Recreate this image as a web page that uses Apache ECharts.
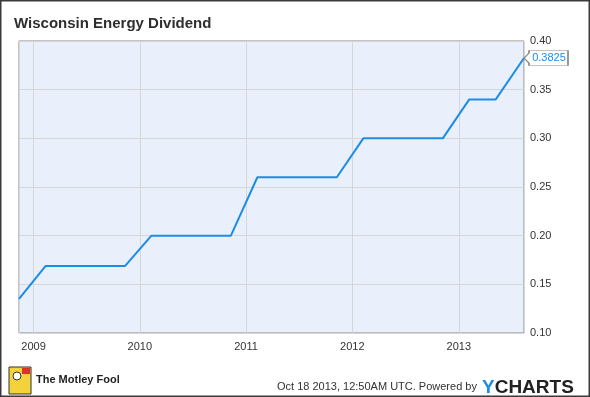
<!DOCTYPE html>
<html>
<head>
<meta charset="utf-8">
<script src="https://cdn.jsdelivr.net/npm/echarts@6/dist/echarts.min.js"></script>
<style>
  body { margin: 0; background: #fff; }
  #chart { width: 590px; height: 397px; }
</style>
</head>
<body>
<div id="chart"></div>
<script>
'use strict';

// quarterly dividend dates and split-adjusted amounts
var divDates = [
    '2008-11-12', '2009-02-11', '2009-05-13', '2009-08-12', '2009-11-11',
    '2010-02-10', '2010-05-12', '2010-08-11', '2010-11-10',
    '2011-02-09', '2011-05-11', '2011-08-10', '2011-11-09',
    '2012-02-08', '2012-05-09', '2012-08-08', '2012-11-07',
    '2013-02-06', '2013-05-08', '2013-08-13'
];
var divValues = [
    0.135, 0.16875, 0.16875, 0.16875, 0.16875,
    0.20, 0.20, 0.20, 0.20,
    0.26, 0.26, 0.26, 0.26,
    0.30, 0.30, 0.30, 0.30,
    0.34, 0.34, 0.3825
];
var yTicks = [0.10, 0.15, 0.20, 0.25, 0.30, 0.35, 0.40];

var FONT = '"Liberation Sans", Arial, sans-serif';
var LINE_COLOR = '#1b8ce8';

var series_data = [];
for (var i = 0; i < divDates.length; i++) {
    series_data.push([divDates[i], divValues[i]]);
}
var last = series_data[series_data.length - 1];

var my_chart = echarts.init(document.getElementById('chart'));
my_chart.setOption({
    animation: false,
    title: {
        text: 'Wisconsin Energy Dividend',
        left: 9,
        top: 11,
        textStyle: { fontFamily: FONT, fontSize: 15, fontWeight: 'bold', color: '#2e2e2e' }
    },
    grid: {
        left: 19,
        right: 66,
        top: 41,
        bottom: 64,
        show: true,
        backgroundColor: '#eaf0fb',
        borderColor: '#888',
        borderWidth: 1
    },
    xAxis: {
        type: 'time',
        min: divDates[0],
        max: divDates[divDates.length - 1],
        minInterval: 365 * 24 * 3600 * 1000,
        axisLine: { show: false },
        axisTick: { show: false },
        axisLabel: {
            formatter: '{yyyy}',
            color: '#333',
            fontFamily: FONT,
            fontSize: 11,
            margin: 8,
            showMinLabel: false,
            showMaxLabel: false
        },
        splitLine: { show: true, lineStyle: { color: '#d6d6d6', width: 1 } }
    },
    yAxis: {
        type: 'value',
        position: 'right',
        min: yTicks[0],
        max: yTicks[yTicks.length - 1],
        interval: 0.05,
        axisLine: { show: false },
        axisTick: { show: false },
        axisLabel: {
            formatter: function (v) { return v.toFixed(2); },
            color: '#333',
            fontFamily: FONT,
            fontSize: 11,
            margin: 6
        },
        splitLine: { show: true, lineStyle: { color: '#d6d6d6', width: 1 } }
    },
    series: [{
        type: 'line',
        data: series_data,
        symbol: 'none',
        lineStyle: { color: LINE_COLOR, width: 2 },
        markPoint: {
            symbol: 'path://M0,7.5 L5,2.5 L5,0 L44,0 L44,15 L5,15 L5,12.5 Z',
            symbolSize: [44, 15],
            symbolOffset: ['50%', 0],
            itemStyle: { color: '#fff', borderColor: '#888', borderWidth: 1 },
            label: {
                show: true,
                position: 'inside',
                offset: [3, 0],
                color: LINE_COLOR,
                fontFamily: FONT,
                fontSize: 11,
                formatter: function (p) { return p.value.toFixed(4); }
            },
            data: [{ coord: last, value: last[1] }]
        }
    }],
    graphic: [
        {
            type: 'rect',
            shape: { x: 0.75, y: 0.75, width: 588.5, height: 395.5 },
            style: { fill: null, stroke: '#3a3a3a', lineWidth: 1.5 },
            silent: true
        },
        {
            type: 'rect',
            shape: { x: 9, y: 367, width: 22, height: 27 },
            style: { fill: '#f3d23a', stroke: '#333', lineWidth: 1 }
        },
        {
            type: 'circle',
            shape: { cx: 17, cy: 376, r: 4 },
            style: { fill: '#fff', stroke: '#333', lineWidth: 1 }
        },
        {
            type: 'rect',
            shape: { x: 22, y: 368, width: 8, height: 6 },
            style: { fill: '#d9332b' }
        },
        {
            type: 'text',
            left: 36,
            top: 374,
            style: {
                text: 'The Motley Fool',
                font: 'bold 11px ' + FONT,
                fill: '#222'
            }
        },
        {
            type: 'text',
            left: 277,
            top: 381,
            style: {
                text: 'Oct 18 2013, 12:50AM UTC. Powered by',
                font: '11px ' + FONT,
                fill: '#333'
            }
        },
        {
            type: 'text',
            left: 482,
            top: 378,
            style: {
                rich: {
                    y: { font: 'bold 19px ' + FONT, fill: LINE_COLOR },
                    c: { font: 'bold 19px ' + FONT, fill: '#222' }
                },
                text: '{y|Y}{c|CHARTS}'
            }
        }
    ]
});
</script>
</body>
</html>
